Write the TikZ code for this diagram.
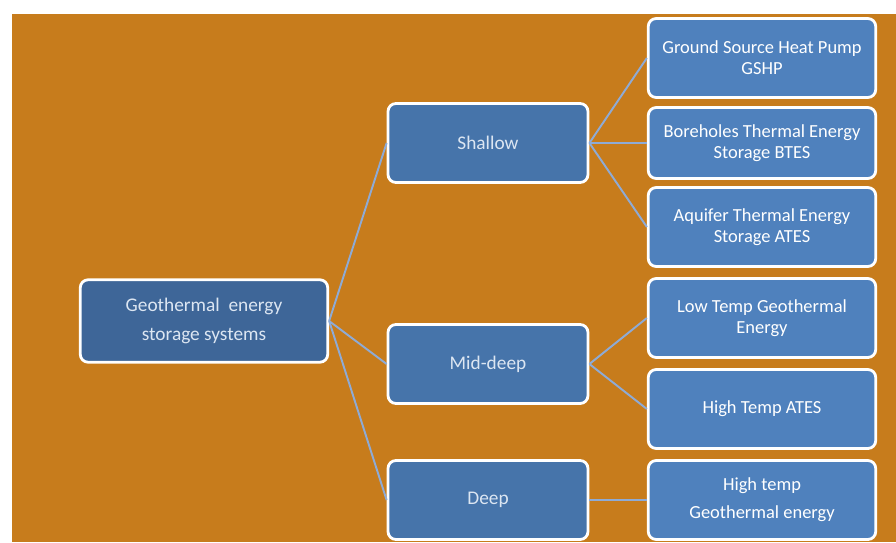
\documentclass[tikz,border=0pt]{standalone}
\usepackage{fontspec}
\setmainfont{Carlito}
\usetikzlibrary{backgrounds}

\definecolor{bgorange}{HTML}{C77C1C}
\definecolor{rootblue}{HTML}{3E6698}
\definecolor{midblue}{HTML}{4674AA}
\definecolor{leafblue}{HTML}{4F81BD}
\definecolor{linkblue}{HTML}{8EABD6}
\definecolor{paletext}{HTML}{DCE6F2}

\begin{document}
\begin{tikzpicture}[
        x=0.02cm, y=-0.02cm,
        box/.style={draw=white, line width=1.6pt, rounded corners=4.5pt,
            align=center, inner sep=0pt, font=\fontsize{10.5}{12}\selectfont},
        root box/.style={box, fill=rootblue, text=paletext,
            minimum width=4.95cm, minimum height=1.65cm},
        mid box/.style={box, fill=midblue, text=paletext,
            font=\fontsize{11}{12}\selectfont,
            minimum width=4.0cm, minimum height=1.58cm},
        leaf box/.style={box, fill=leafblue, text=white,
            minimum width=4.55cm, minimum height=1.58cm},
        link/.style={linkblue, line width=1.1pt}]

    % background
    \useasboundingbox (0,0) rectangle (896,542);
    \fill[white] (0,0) rectangle (896,542);
    \fill[bgorange] (12,14) rectangle (896,542);

    % root
    \node[root box, font=\fontsize{11}{17}\selectfont] (root) at (204,321)
        {Geothermal\ \ energy\\storage systems};

    % depth classes
    \node[mid box] (shallow) at (488,143) {Shallow};
    \node[mid box] (middeep) at (488,364) {Mid-deep};
    \node[mid box] (deep)    at (488,500) {Deep};

    % systems
    \node[leaf box] (gshp)     at (762,58)  {Ground Source Heat Pump\\GSHP};
    \node[leaf box, minimum height=1.42cm] (btes) at (762,143)
        {Boreholes Thermal Energy\\Storage BTES};
    \node[leaf box] (ates)     at (762,227) {Aquifer Thermal Energy\\Storage ATES};
    \node[leaf box] (lowtemp)  at (762,318) {Low Temp Geothermal\\Energy};
    \node[leaf box] (hightemp) at (762,409) {High Temp ATES};
    \node[leaf box, font=\fontsize{10.5}{16}\selectfont] (highgeo) at (762,500)
        {High temp\\Geothermal energy};

    % links
    \foreach \n in {shallow, middeep, deep}
        \draw[link] (root.east) -- (\n.west);
    \foreach \n in {gshp, btes, ates}
        \draw[link] (shallow.east) -- (\n.west);
    \foreach \n in {lowtemp, hightemp}
        \draw[link] (middeep.east) -- (\n.west);
    \draw[link] (deep.east) -- (highgeo.west);
\end{tikzpicture}
\end{document}
